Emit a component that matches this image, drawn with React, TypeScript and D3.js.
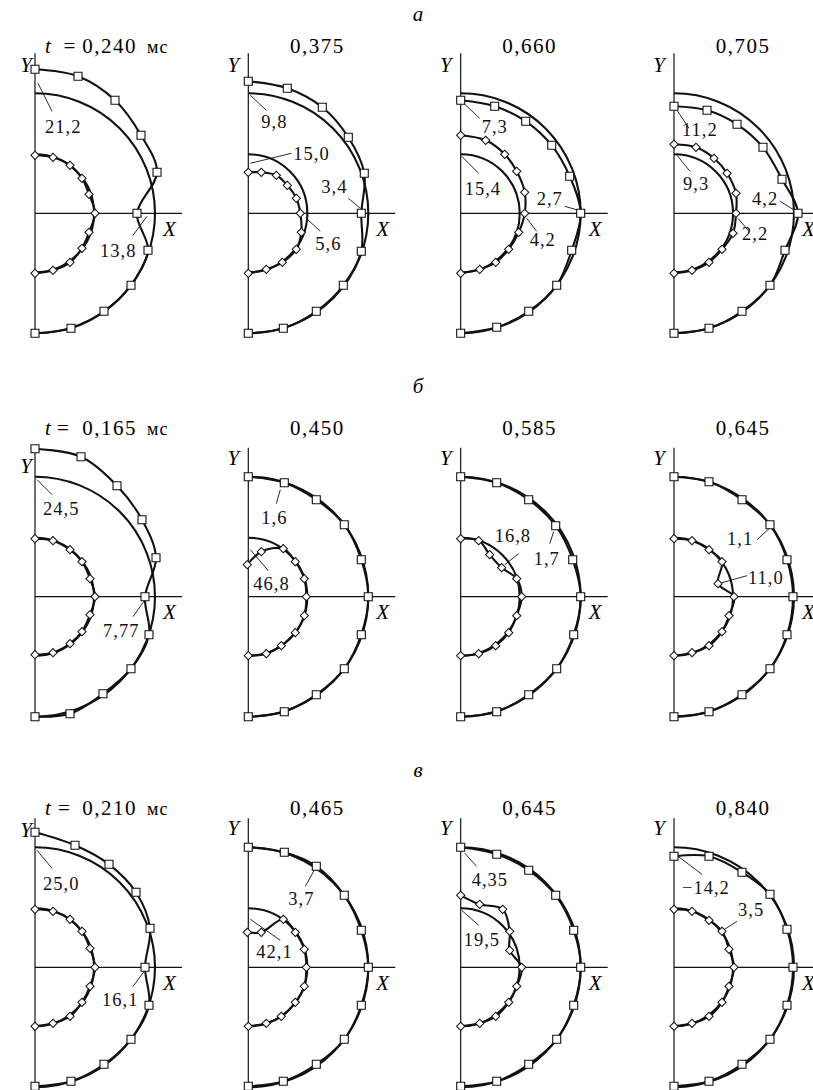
import React, { useEffect, useRef } from "react";
import * as d3 from "d3";

type Pt = [number, number];
type Note = { text: string; tx: number; ty: number; line: [number, number, number, number] };

const W = 813;
const H = 1090;

// layout of the 3 x 4 grid (page pixels)
const rowLetters = ["а", "б", "в"];
const rowLetterY = [21, 393, 777];
const rowOriginY = [213.3, 596.7, 967.3];
const colOriginX = [35, 248.3, 460.7, 674];

// units: 1 unit = 10 px
const rowYAxisTop = [16.0, 14.9, 14.9];
const rowTitleY = [16.0, 16.2, 15.2];
const rowEqX = [3.45, 2.8, 2.9];
const yLabelY = [
  [14.1, 14.1, 14.1, 14.1],
  [12.4, 13.2, 13.2, 13.2],
  [13.0, 13.2, 13.2, 13.2],
];
const xAxisLen = 14.7;
const outerR0 = 12.0; // initial outer contour
const innerR0 = 5.9; // initial inner contour

const times = [
  ["0,240", "0,375", "0,660", "0,705"],
  ["0,165", "0,450", "0,585", "0,645"],
  ["0,210", "0,465", "0,645", "0,840"],
];

// ---- row а ----
const squaresA1: Pt[] = [[0, 14.4], [4.3, 13.7], [8.0, 11.3], [10.6, 7.8], [12.2, 4.1], [10.2, 0], [11.3, -3.7], [9.6, -7.2], [6.9, -9.8], [3.6, -11.5], [0, -12.0]];
const diamondsA1: Pt[] = [[0, 5.8], [1.8, 5.6], [3.5, 4.8], [4.7, 3.5], [5.4, 1.9], [6.0, 0], [5.4, -1.9], [4.7, -3.5], [3.5, -4.9], [1.8, -5.7], [0, -6.0]];
const notesA1: Note[] = [
  { text: "21,2", tx: 1.0, ty: 8.0, line: [0.3, 13.0, 1.7, 10.2] },
  { text: "13,8", tx: 6.5, ty: -4.4, line: [11.2, -0.3, 9.8, -2.2] },
];

const squaresA2: Pt[] = [[0, 13.2], [3.9, 12.5], [7.4, 10.6], [10.0, 7.6], [11.6, 4.0], [11.3, 0], [11.3, -3.8], [9.5, -7.2], [6.8, -9.8], [3.5, -11.5], [0, -12.0]];
const diamondsA2: Pt[] = [[0, 4.1], [1.3, 4.1], [2.8, 3.8], [3.9, 2.8], [4.8, 1.5], [5.2, 0], [5.3, -1.9], [4.8, -3.6], [3.4, -4.9], [1.8, -5.6], [0, -6.0]];
const notesA2: Note[] = [
  { text: "9,8", tx: 1.3, ty: 8.5, line: [0.2, 11.8, 1.8, 10.3] },
  { text: "15,0", tx: 4.5, ty: 5.3, line: [0.2, 5.0, 4.3, 6.0] },
  { text: "3,4", tx: 7.3, ty: 2.0, line: [10.0, 1.5, 11.2, 0.5] },
  { text: "5,6", tx: 6.7, ty: -3.7, line: [5.8, -0.5, 7.2, -1.8] },
];

const squaresA3: Pt[] = [[0, 11.3], [3.4, 10.7], [6.5, 9.2], [9.1, 6.8], [10.9, 3.7], [12.0, 0], [11.1, -3.7], [9.6, -7.2], [6.8, -9.8], [3.6, -11.4], [0, -12.0]];
const diamondsA3: Pt[] = [[0, 7.8], [2.5, 7.3], [4.4, 5.9], [5.6, 4.2], [6.4, 2.1], [6.4, 0], [5.8, -1.9], [4.8, -3.6], [3.5, -4.9], [1.9, -5.6], [0, -6.0]];
const notesA3: Note[] = [
  { text: "7,3", tx: 2.1, ty: 8.0, line: [0.3, 11.0, 1.9, 9.5] },
  { text: "15,4", tx: 0.4, ty: 1.8, line: [0.1, 5.7, 1.8, 4.0] },
  { text: "2,7", tx: 7.6, ty: 0.8, line: [10.4, 0.7, 11.8, 0.3] },
  { text: "4,2", tx: 6.9, ty: -3.3, line: [6.6, -0.5, 7.6, -1.8] },
];

const squaresA4: Pt[] = [[0, 10.7], [3.3, 10.3], [6.3, 8.9], [8.9, 6.6], [10.8, 3.4], [12.4, 0], [11.1, -3.7], [9.6, -7.2], [6.8, -9.8], [3.5, -11.5], [0, -12.0]];
const diamondsA4: Pt[] = [[0, 6.9], [2.2, 6.6], [4.0, 5.5], [5.3, 4.0], [6.2, 2.0], [6.2, 0], [5.9, -2.0], [4.8, -3.6], [3.5, -4.9], [1.8, -5.7], [0, -6.0]];
const notesA4: Note[] = [
  { text: "11,2", tx: 0.8, ty: 7.7, line: [0.3, 10.3, 1.5, 8.5] },
  { text: "9,3", tx: 0.9, ty: 2.3, line: [0.3, 5.8, 1.6, 4.2] },
  { text: "4,2", tx: 7.8, ty: 0.8, line: [10.6, 1.2, 11.9, 0.4] },
  { text: "2,2", tx: 6.8, ty: -2.7, line: [6.4, -0.5, 7.4, -1.7] },
];

// ---- row б ----
const squaresB1: Pt[] = [[0, 14.8], [4.6, 14.0], [8.2, 11.1], [10.7, 7.7], [12.1, 3.9], [11.0, 0], [11.4, -3.8], [9.6, -7.2], [6.8, -9.7], [3.5, -11.7], [0, -12.0]];
const diamondsB1: Pt[] = [[0, 5.8], [1.8, 5.6], [3.5, 4.7], [4.7, 3.5], [5.5, 1.8], [6.0, 0], [5.5, -1.8], [4.7, -3.5], [3.5, -4.7], [1.8, -5.6], [0, -5.8]];
const notesB1: Note[] = [
  { text: "24,5", tx: 0.8, ty: 8.2, line: [0.2, 11.7, 1.7, 10.2] },
  { text: "7,77", tx: 6.8, ty: -4.0, line: [11.0, -0.3, 9.8, -2.0] },
];

const squaresB2: Pt[] = [[0, 12.0], [3.6, 11.4], [6.8, 9.7], [9.6, 7.2], [11.3, 3.7], [12.0, 0], [11.3, -3.8], [9.6, -7.2], [6.8, -9.8], [3.6, -11.5], [0, -12.0]];
const diamondsB2: Pt[] = [[-0.1, 3.2], [1.3, 4.5], [3.5, 4.8], [4.7, 3.5], [5.6, 1.8], [5.8, 0], [5.6, -1.9], [4.7, -3.6], [3.3, -4.9], [1.8, -5.7], [0, -5.9]];
const notesB2: Note[] = [
  { text: "1,6", tx: 1.3, ty: 7.3, line: [3.2, 10.7, 2.8, 9.3] },
  { text: "46,8", tx: 0.5, ty: 0.7, line: [0.2, 4.7, 2.0, 2.6] },
];

const squaresB3: Pt[] = [[0, 12.0], [3.6, 11.4], [6.8, 9.7], [9.5, 7.1], [11.2, 3.7], [12.0, 0], [11.3, -3.8], [9.6, -7.2], [6.8, -9.8], [3.6, -11.5], [0, -12.0]];
const diamondsB3: Pt[] = [[0, 5.8], [1.8, 5.6], [2.9, 4.2], [4.1, 2.9], [5.6, 1.8], [6.1, 0], [5.6, -1.9], [4.8, -3.6], [3.5, -4.9], [1.8, -5.7], [0, -5.9]];
const notesB3: Note[] = [
  { text: "16,8", tx: 3.4, ty: 5.5, line: [5.8, 4.3, 4.4, 3.2] },
  { text: "1,7", tx: 7.3, ty: 3.2, line: [9.3, 6.5, 8.9, 5.3] },
];

const squaresB4: Pt[] = [[0, 12.0], [3.5, 11.5], [6.8, 9.7], [9.6, 7.2], [11.3, 3.7], [11.9, 0], [11.3, -3.8], [9.6, -7.2], [6.8, -9.8], [3.5, -11.5], [0, -12.0]];
const diamondsB4: Pt[] = [[0, 5.8], [1.8, 5.6], [3.5, 4.7], [4.8, 3.5], [4.4, 1.3], [6.0, 0], [5.5, -1.9], [4.8, -3.5], [3.5, -4.9], [1.8, -5.6], [0, -5.9]];
const notesB4: Note[] = [
  { text: "1,1", tx: 5.3, ty: 5.2, line: [8.3, 5.7, 9.5, 6.8] },
  { text: "11,0", tx: 7.4, ty: 1.3, line: [7.3, 2.1, 4.8, 1.4] },
];

// ---- row в ----
const squaresC1: Pt[] = [[0, 13.5], [4.0, 12.2], [7.4, 10.3], [10.1, 7.5], [11.5, 3.9], [11.0, 0], [11.4, -3.8], [9.6, -7.2], [6.9, -9.7], [3.6, -11.4], [0, -11.9]];
const diamondsC1: Pt[] = [[0, 5.8], [1.8, 5.6], [3.5, 4.8], [4.7, 3.6], [5.5, 1.9], [6.0, 0], [5.5, -1.9], [4.7, -3.5], [3.5, -4.9], [1.8, -5.6], [0, -5.9]];
const notesC1: Note[] = [
  { text: "25,0", tx: 0.8, ty: 7.7, line: [0.2, 11.7, 1.7, 9.9] },
  { text: "16,1", tx: 6.7, ty: -3.9, line: [11.0, -0.3, 9.8, -1.9] },
];

const squaresC2: Pt[] = [[0, 12.0], [3.6, 11.5], [6.8, 10.1], [9.6, 7.2], [11.3, 3.7], [12.0, 0], [11.3, -3.8], [9.6, -7.2], [6.8, -9.7], [3.5, -11.4], [0, -11.9]];
const diamondsC2: Pt[] = [[-0.1, 3.5], [1.3, 3.5], [3.5, 4.8], [4.7, 3.5], [5.6, 1.8], [5.8, 0], [5.6, -1.9], [4.7, -3.5], [3.3, -4.9], [1.8, -5.6], [0, -5.9]];
const notesC2: Note[] = [
  { text: "3,7", tx: 4.0, ty: 6.2, line: [6.7, 9.9, 5.7, 8.1] },
  { text: "42,1", tx: 0.8, ty: 0.9, line: [0.2, 4.8, 3.2, 2.7] },
];

const squaresC3: Pt[] = [[0, 12.0], [3.6, 11.3], [6.8, 9.7], [9.5, 7.2], [11.3, 3.7], [12.0, 0], [11.3, -3.8], [9.6, -7.2], [6.8, -9.7], [3.6, -11.4], [0, -11.9]];
const diamondsC3: Pt[] = [[0, 7.2], [1.9, 6.3], [4.2, 5.8], [4.9, 3.6], [4.9, 1.7], [6.1, 0], [5.6, -1.9], [4.8, -3.5], [3.5, -4.9], [1.9, -5.6], [0, -5.9]];
const notesC3: Note[] = [
  { text: "4,35", tx: 1.1, ty: 8.1, line: [0.4, 11.4, 1.6, 10.1] },
  { text: "19,5", tx: 0.3, ty: 2.1, line: [0.1, 5.7, 1.8, 4.2] },
];

const squaresC4: Pt[] = [[0, 11.1], [3.5, 11.1], [6.8, 9.5], [9.6, 7.3], [11.3, 3.8], [11.9, 0], [11.3, -3.8], [9.6, -7.2], [6.8, -9.7], [3.5, -11.4], [0, -11.9]];
const diamondsC4: Pt[] = [[0, 5.8], [1.8, 5.6], [3.5, 4.7], [4.8, 3.6], [5.5, 1.8], [6.0, 0], [5.5, -1.9], [4.8, -3.5], [3.5, -4.9], [1.8, -5.6], [0, -5.9]];
const notesC4: Note[] = [
  { text: "\u221214,2", tx: 0.8, ty: 7.3, line: [0.4, 11.1, 2.8, 9.3] },
  { text: "3,5", tx: 6.4, ty: 5.1, line: [6.3, 4.6, 4.9, 3.7] },
];

const panels = [
  { row: 0, col: 0, squares: squaresA1, diamonds: diamondsA1, notes: notesA1 },
  { row: 0, col: 1, squares: squaresA2, diamonds: diamondsA2, notes: notesA2 },
  { row: 0, col: 2, squares: squaresA3, diamonds: diamondsA3, notes: notesA3 },
  { row: 0, col: 3, squares: squaresA4, diamonds: diamondsA4, notes: notesA4 },
  { row: 1, col: 0, squares: squaresB1, diamonds: diamondsB1, notes: notesB1 },
  { row: 1, col: 1, squares: squaresB2, diamonds: diamondsB2, notes: notesB2 },
  { row: 1, col: 2, squares: squaresB3, diamonds: diamondsB3, notes: notesB3 },
  { row: 1, col: 3, squares: squaresB4, diamonds: diamondsB4, notes: notesB4 },
  { row: 2, col: 0, squares: squaresC1, diamonds: diamondsC1, notes: notesC1 },
  { row: 2, col: 1, squares: squaresC2, diamonds: diamondsC2, notes: notesC2 },
  { row: 2, col: 2, squares: squaresC3, diamonds: diamondsC3, notes: notesC3 },
  { row: 2, col: 3, squares: squaresC4, diamonds: diamondsC4, notes: notesC4 },
];

const FONT = "Liberation Serif, serif";

export default function App() {
  const ref = useRef<SVGSVGElement>(null);

  useEffect(() => {
    const svg = d3.select(ref.current);
    svg.selectAll("*").remove();

    // row letters а, б, в
    svg
      .selectAll(".row-letter")
      .data(rowLetters)
      .join("text")
      .attr("class", "row-letter")
      .attr("x", 418)
      .attr("y", (d, i) => rowLetterY[i])
      .attr("text-anchor", "middle")
      .style("font-family", FONT)
      .style("font-style", "italic")
      .style("font-size", "21px")
      .text((d) => d);

    panels.forEach((p) => {
      const x0 = colOriginX[p.col];
      const y0 = rowOriginY[p.row];
      const x = d3.scaleLinear().domain([0, 12]).range([x0, x0 + 120]);
      const y = d3.scaleLinear().domain([0, 12]).range([y0, y0 - 120]);
      const g = svg.append("g");

      // axes
      g.append("line")
        .attr("x1", x(0)).attr("x2", x(0))
        .attr("y1", y(rowYAxisTop[p.row])).attr("y2", y(-12.1))
        .attr("stroke", "#111").attr("stroke-width", 1.2);
      g.append("line")
        .attr("x1", x(0)).attr("x2", x(xAxisLen))
        .attr("y1", y(0)).attr("y2", y(0))
        .attr("stroke", "#111").attr("stroke-width", 1.2);

      // initial contours (semicircles)
      [outerR0, innerR0].forEach((R) => {
        const r = x(R) - x(0);
        const path = d3.path();
        path.moveTo(x(0), y(R));
        path.arc(x(0), y(0), r, -Math.PI / 2, Math.PI / 2);
        g.append("path")
          .attr("d", path.toString())
          .attr("fill", "none")
          .attr("stroke", "#111")
          .attr("stroke-width", 2.1);
      });

      // deformed contours
      const line = d3
        .line<Pt>()
        .x((d) => x(d[0]))
        .y((d) => y(d[1]))
        .curve(d3.curveCatmullRom.alpha(0.5));
      [p.squares, p.diamonds].forEach((pts) => {
        g.append("path")
          .attr("d", line(pts))
          .attr("fill", "none")
          .attr("stroke", "#111")
          .attr("stroke-width", 2.1);
      });

      // leader lines
      g.selectAll(".leader")
        .data(p.notes)
        .join("line")
        .attr("class", "leader")
        .attr("x1", (d) => x(d.line[0]))
        .attr("y1", (d) => y(d.line[1]))
        .attr("x2", (d) => x(d.line[2]))
        .attr("y2", (d) => y(d.line[3]))
        .attr("stroke", "#111")
        .attr("stroke-width", 0.9);

      // markers
      const sq = d3.symbol().type(d3.symbolSquare).size(64);
      g.selectAll(".sq")
        .data(p.squares)
        .join("path")
        .attr("class", "sq")
        .attr("d", sq)
        .attr("transform", (d) => `translate(${x(d[0])},${y(d[1])})`)
        .attr("fill", "#fff")
        .attr("stroke", "#111")
        .attr("stroke-width", 1.1);
      const dm = d3.symbol().type(d3.symbolSquare).size(34);
      g.selectAll(".dm")
        .data(p.diamonds)
        .join("path")
        .attr("class", "dm")
        .attr("d", dm)
        .attr("transform", (d) => `translate(${x(d[0])},${y(d[1])}) rotate(45)`)
        .attr("fill", "#fff")
        .attr("stroke", "#111")
        .attr("stroke-width", 1);

      // value labels
      g.selectAll(".note")
        .data(p.notes)
        .join("text")
        .attr("class", "note")
        .attr("x", (d) => x(d.tx))
        .attr("y", (d) => y(d.ty))
        .style("font-family", FONT)
        .style("font-size", "18.5px")
        .style("letter-spacing", "1px")
        .attr("fill", "#111")
        .text((d) => d.text);

      // axis letters
      g.append("text")
        .attr("x", x(0) - (p.col === 0 ? 3 : 9))
        .attr("y", y(yLabelY[p.row][p.col]))
        .attr("text-anchor", "end")
        .style("font-family", FONT)
        .style("font-style", "italic")
        .style("font-size", "21px")
        .text("Y");
      g.append("text")
        .attr("x", x(12.8))
        .attr("y", y(-2.27))
        .style("font-family", FONT)
        .style("font-style", "italic")
        .style("font-size", "21px")
        .text("X");

      // time titles
      const ty = y(rowTitleY[p.row]);
      const tTime = times[p.row][p.col];
      if (p.col === 0) {
        g.append("text").attr("x", x(1.0)).attr("y", ty)
          .style("font-family", FONT).style("font-style", "italic").style("font-size", "21px")
          .text("t");
        g.append("text").attr("x", x(rowEqX[p.row])).attr("y", ty)
          .attr("text-anchor", "middle")
          .style("font-family", FONT).style("font-size", "21px")
          .text("=");
        g.append("text").attr("x", x(10.2)).attr("y", ty)
          .attr("text-anchor", "end")
          .style("font-family", FONT).style("font-size", "21px").style("letter-spacing", "1.5px")
          .text(tTime);
        g.append("text").attr("x", x(11.2)).attr("y", ty)
          .style("font-family", FONT).style("font-size", "18px").style("letter-spacing", "1px")
          .text("мс");
      } else {
        g.append("text").attr("x", x(6.9)).attr("y", ty)
          .attr("text-anchor", "middle")
          .style("font-family", FONT).style("font-size", "21px").style("letter-spacing", "1.5px")
          .text(tTime);
      }
    });
  }, []);

  return (
    <svg
      ref={ref}
      width={W}
      height={H}
      style={{ position: "absolute", left: 0, top: 0, background: "#fff" }}
    />
  );
}
